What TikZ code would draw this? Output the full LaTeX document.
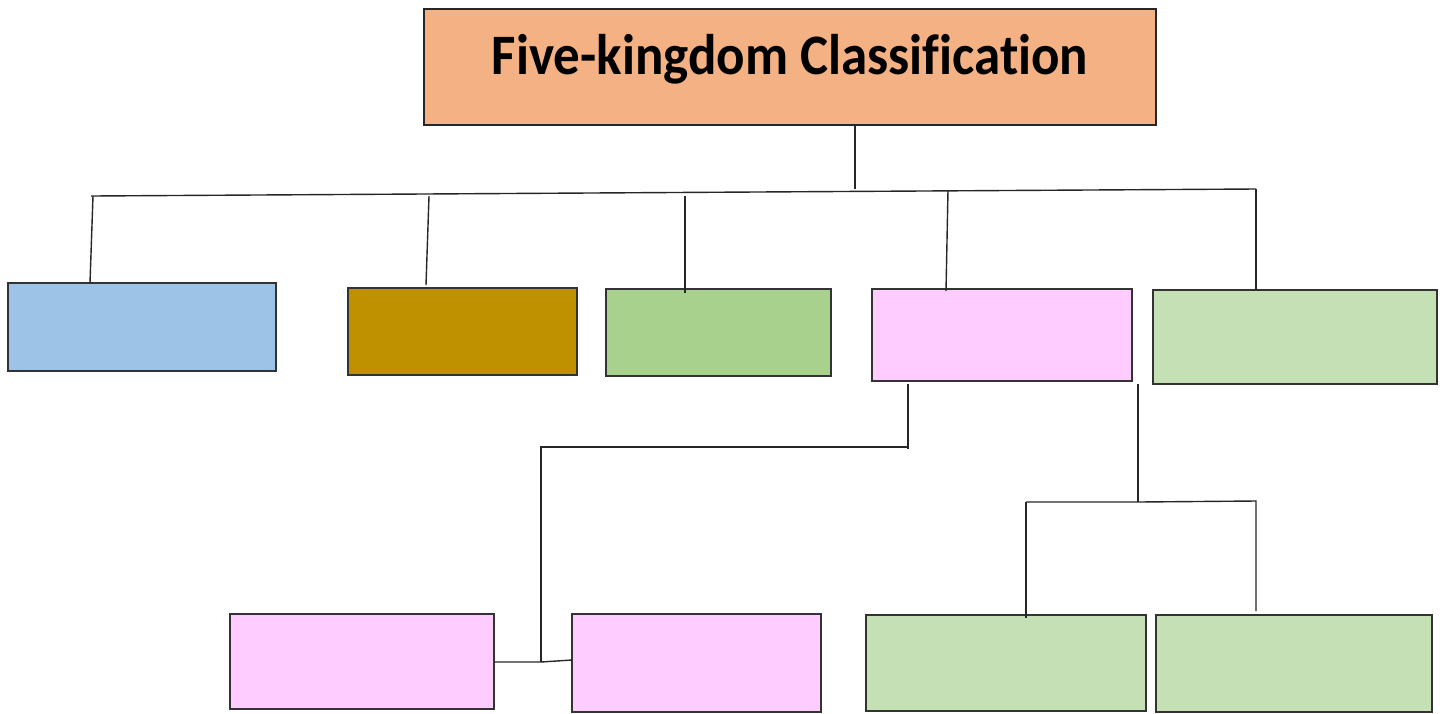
\documentclass[tikz,border=0pt]{standalone}
\usepackage{fontspec}
\setmainfont{Carlito}[Ligatures=NoCommon]
\usetikzlibrary{calc}
\definecolor{titlefill}{HTML}{F4B183}
\definecolor{bluefill}{HTML}{9DC3E6}
\definecolor{brownfill}{HTML}{BF9000}
\definecolor{greenfill}{HTML}{A9D18E}
\definecolor{pinkfill}{HTML}{FFCCFF}
\definecolor{lgreenfill}{HTML}{C5E0B4}
\definecolor{edge}{HTML}{333333}
\newcommand\kbox[6]{\node[kbox, fill=#6, minimum width={(#4-#2)*0.5pt}, minimum height={(#5-#3)*0.5pt}, anchor=north west] (#1) at (#2,#3) {};}
\tikzset{
  kbox/.style={draw=edge, line width=0.65pt, inner sep=0pt, outer sep=0pt, rectangle},
  link/.style={draw=black!85, line width=0.7pt},
}
\begin{document}
\begin{tikzpicture}[x=0.5pt,y=-0.5pt]
\useasboundingbox (0,0) rectangle (1444,713);
% title
\node[kbox, draw=black!85, line width=1.1pt, fill=titlefill, minimum width={(1156-424)*0.5pt}, minimum height={(125-9)*0.5pt}, anchor=north west] (title) at (424,9) {};
\node[anchor=base, inner sep=0pt, font=\fontsize{26.5}{30}\selectfont\bfseries, yscale=1.08] (titletext) at (790,74) {Five-kingdom Classification};
% level 1 boxes
\kbox{b1}{8}{283}{276}{371}{bluefill}
\kbox{b2}{348}{288}{577}{375}{brownfill}
\kbox{b3}{606}{289}{831}{376}{greenfill}
\kbox{b4}{872}{289}{1132}{381}{pinkfill}
\kbox{b5}{1153}{290}{1437}{384}{lgreenfill}
% level 2 boxes
\kbox{b6}{230}{614}{494}{709}{pinkfill}
\kbox{b7}{572}{614}{821}{712}{pinkfill}
\kbox{b8}{866}{615}{1146}{711}{lgreenfill}
\kbox{b9}{1156}{615}{1432}{712}{lgreenfill}
% trunk
\coordinate (tl) at (91,196);
\coordinate (tm) at (855,189);
\coordinate (tr) at (1256,189);
\coordinate (t1) at (93,196);
\coordinate (t2) at (429,196);
\coordinate (t3) at (685,196);
\coordinate (t4) at (948,190);
\draw[link] (title.south -| tm) -- (tm);
\draw[link] (tl) -- (tr);
\draw[link] (t1) -- (90,283);
\draw[link] (t2) -- (426,285);
\draw[link] (t3) -- (685,293);
\draw[link] (t4) -- (946,291);
\draw[link] (tr) -- (b5.north -| tr);
% branch from b4 to b6/b7
\coordinate (p1) at (908,384);
\coordinate (p2) at (908,449);
\coordinate (p3) at (908,447);
\coordinate (p4) at (541,447);
\coordinate (p5) at (541,662);
\draw[link] (p1) -- (p2);
\draw[link] (p3) -- (p4) -- (p5);
\draw[link] (b6.east |- p5) -- (p5) -- (b7.west |- 0,660);
% branch from b4 to b8/b9
\coordinate (q1) at (1138,384);
\coordinate (q2) at (1138,502);
\coordinate (q3) at (1026,502);
\coordinate (q4) at (1256,501);
\draw[link] (q1) -- (q2);
\draw[link] (q3) -- (1026,618);
\draw[link] (q3) -- (q2) -- (q4) -- (1256,611);
\end{tikzpicture}
\end{document}
